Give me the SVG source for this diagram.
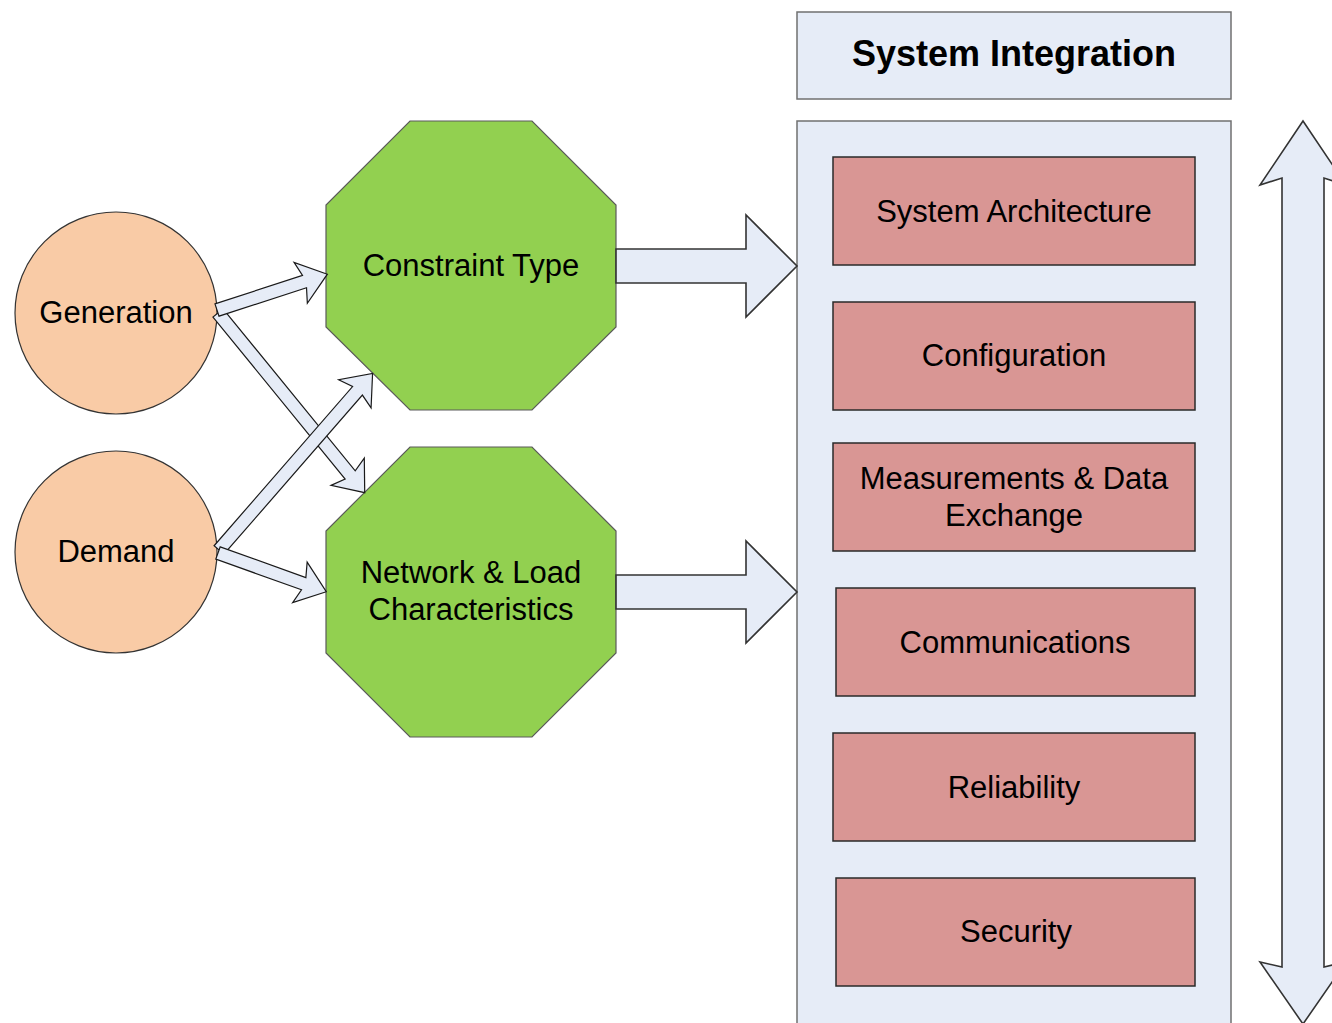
<svg xmlns="http://www.w3.org/2000/svg" width="1332" height="1023" viewBox="0 0 1332 1023">
  <style>
    text { font-family: "Liberation Sans", Arial, sans-serif; fill: #000; text-anchor: middle; }
    .lbl { font-size: 31px; }
    .title { font-size: 36px; font-weight: bold; }
    .source { fill: #F9CBA6; stroke: #333; stroke-width: 1.2; }
    .constraint { fill: #92D050; stroke: #5a5a5a; stroke-width: 1.2; }
    .panel { fill: #E6ECF7; stroke: #707070; stroke-width: 1.5; }
    .item { fill: #D99694; stroke: #2a2a2a; stroke-width: 1.5; }
    .arrow { fill: #E6ECF7; stroke: #1a1a1a; stroke-width: 1.2; stroke-linejoin: miter; }
    .bigarrow { fill: #E6ECF7; stroke: #333; stroke-width: 1.6; }
  </style>

  <!-- Header and container panel -->
  <g id="system-integration">
    <rect class="panel" x="797" y="12" width="434" height="87"/>
    <text class="title" x="1014" y="66">System Integration</text>
  </g>
  <g id="integration-panel">
    <rect class="panel" x="797" y="121" width="434" height="920"/>
  </g>

  <!-- Integration aspects -->
  <g id="system-architecture">
    <rect class="item" x="833" y="157" width="362" height="108"/>
    <text class="lbl" x="1014" y="222">System Architecture</text>
  </g>
  <g id="configuration">
    <rect class="item" x="833" y="302" width="362" height="108"/>
    <text class="lbl" x="1014" y="366">Configuration</text>
  </g>
  <g id="measurements">
    <rect class="item" x="833" y="443" width="362" height="108"/>
    <text class="lbl" x="1014" y="489">Measurements &amp; Data</text>
    <text class="lbl" x="1014" y="526">Exchange</text>
  </g>
  <g id="communications">
    <rect class="item" x="836" y="588" width="359" height="108"/>
    <text class="lbl" x="1015" y="653">Communications</text>
  </g>
  <g id="reliability">
    <rect class="item" x="833" y="733" width="362" height="108"/>
    <text class="lbl" x="1014" y="798">Reliability</text>
  </g>
  <g id="security">
    <rect class="item" x="836" y="878" width="359" height="108"/>
    <text class="lbl" x="1016" y="942">Security</text>
  </g>

  <!-- Inputs -->
  <g id="generation">
    <circle class="source" cx="116" cy="313" r="101"/>
    <text class="lbl" x="116" y="323">Generation</text>
  </g>
  <g id="demand">
    <circle class="source" cx="116" cy="552" r="101"/>
    <text class="lbl" x="116" y="562">Demand</text>
  </g>

  <!-- Constraint octagons -->
  <g id="constraint-type">
    <polygon class="constraint" points="410,121 532,121 616,205 616,327 532,410 410,410 326,327 326,205"/>
    <text class="lbl" x="471" y="276">Constraint Type</text>
  </g>
  <g id="network-load">
    <polygon class="constraint" points="410,447 532,447 616,531 616,653 532,737 410,737 326,653 326,531"/>
    <text class="lbl" x="471" y="583">Network &amp; Load</text>
    <text class="lbl" x="471" y="620">Characteristics</text>
  </g>

  <!-- Connectors -->
  <g id="connectors">
    <!-- Generation -> Network & Load -->
    <path class="arrow" transform="translate(218,313) rotate(50.77)" d="M0,-6.5 L209,-6.5 L205,-21.5 L232,0 L205,21.5 L209,6.5 L0,6.5 Z"/>
    <!-- Demand -> Constraint Type -->
    <path class="arrow" transform="translate(219,550) rotate(-48.98)" d="M0,-6.5 L211,-6.5 L207,-21.5 L234,0 L207,21.5 L211,6.5 L0,6.5 Z"/>
    <!-- Generation -> Constraint Type -->
    <path class="arrow" transform="translate(217,310) rotate(-17.97)" d="M0,-6.5 L92,-6.5 L88,-21.5 L116,0 L88,21.5 L92,6.5 L0,6.5 Z"/>
    <!-- Demand -> Network & Load -->
    <path class="arrow" transform="translate(218,553) rotate(19.7)" d="M0,-6.5 L91,-6.5 L87,-21.5 L115,0 L87,21.5 L91,6.5 L0,6.5 Z"/>
    <!-- Constraints -> System Integration -->
    <path class="bigarrow" d="M616,249 L746,249 L746,215 L797,266 L746,317 L746,283 L616,283 Z"/>
    <path class="bigarrow" d="M616,575 L746,575 L746,541 L797,592 L746,643 L746,609 L616,609 Z"/>
    <!-- Two-way arrow along the panel -->
    <path class="bigarrow" d="M1303,121 L1346,185 L1324,178 L1324,967 L1346,962 L1303,1024 L1260,962 L1282,967 L1282,178 L1260,185 Z"/>
  </g>
</svg>
